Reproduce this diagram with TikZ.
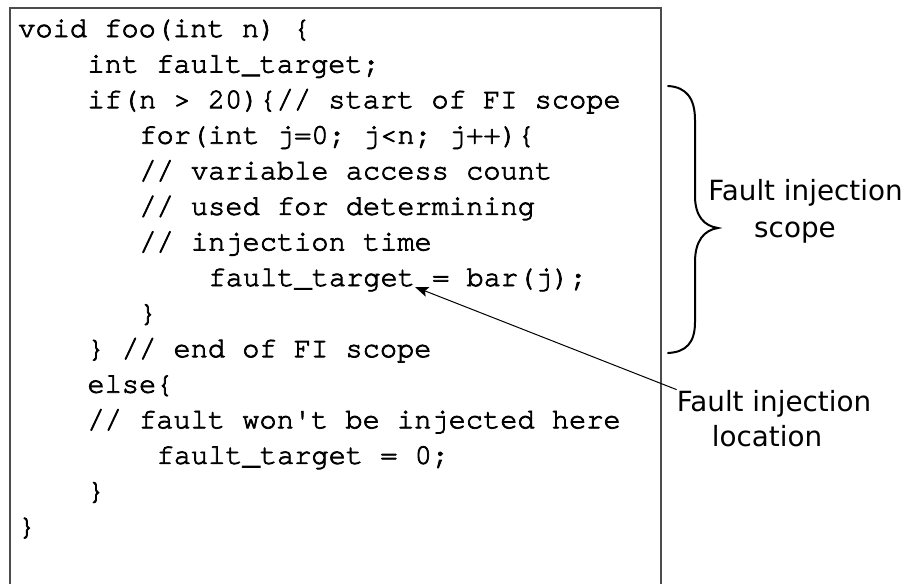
\documentclass[tikz,border=0pt]{standalone}
\usepackage{fontspec}
\setmainfont{DejaVu Sans}
\newfontfamily\codefont[FakeBold=2.6]{TeX Gyre Cursor}
\usetikzlibrary{arrows.meta}
\tikzset{
  code/.style={anchor=base west, inner sep=0pt, font=\codefont\fontsize{21.5}{26}\selectfont},
  lbl/.style={anchor=base, inner sep=0pt, font=\fontsize{20.85}{25}\selectfont},
  frame/.style={draw=black!70, line width=1pt},
  bracestyle/.style={line width=1.5pt, line cap=round},
  pointer/.style={line width=0.75pt, -{Stealth[length=10pt,width=7.5pt,inset=2pt]}},
}
\begin{document}
\begin{tikzpicture}[x=0.75pt,y=-0.75pt]
\useasboundingbox (0,0) rectangle (909,583);
\draw[frame] (10,8) rectangle (661,600);
% code lines
\node[code] (l1)  at (18, 37.00) {void foo(int n) \{};
\node[code] (l2)  at (87.2, 72.57) {int fault\_target;};
\node[code] (l3)  at (87.2, 108.14) {if(n > 20)\{// start of FI scope};
\node[code] (l4)  at (139.1, 143.71) {for(int j=0; j<n; j++)\{};
\node[code] (l5)  at (139.1, 179.28) {// variable access count};
\node[code] (l6)  at (139.1, 214.85) {// used for determining};
\node[code] (l7)  at (139.1, 250.42) {// injection time};
\node[code] (l8)  at (208.3, 285.99) {fault\_target = bar(j);};
\node[code] (l9)  at (139.1, 321.56) {\}};
\node[code] (l10) at (87.2, 357.13) {\} // end of FI scope};
\node[code] (l11) at (87.2, 392.70) {else\{};
\node[code] (l12) at (87.2, 428.27) {// fault won't be injected here};
\node[code] (l13) at (156.4, 463.84) {fault\_target = 0;};
\node[code] (l14) at (87.2, 499.41) {\}};
\node[code] (l15) at (18, 534.98) {\}};
% brace
\draw[bracestyle] (668,86) .. controls (686,87) and (695,98) .. (695,120)
  -- (695,196) .. controls (695,216) and (704,226) .. (718,228)
  .. controls (704,230) and (695,241) .. (695,262)
  -- (695,322) .. controls (695,343) and (686,352) .. (668,353);
% labels
\node[lbl] (sc1) at (805.5,200) {Fault injection};
\node[lbl] (sc2) at (795,237) {scope};
\node[lbl] (loc1) at (774,411) {Fault injection};
\node[lbl] (loc2) at (767,446) {location};
\coordinate (tip) at (415,287);
\draw[pointer] (loc1.north west) -- (tip);
\end{tikzpicture}
\end{document}
